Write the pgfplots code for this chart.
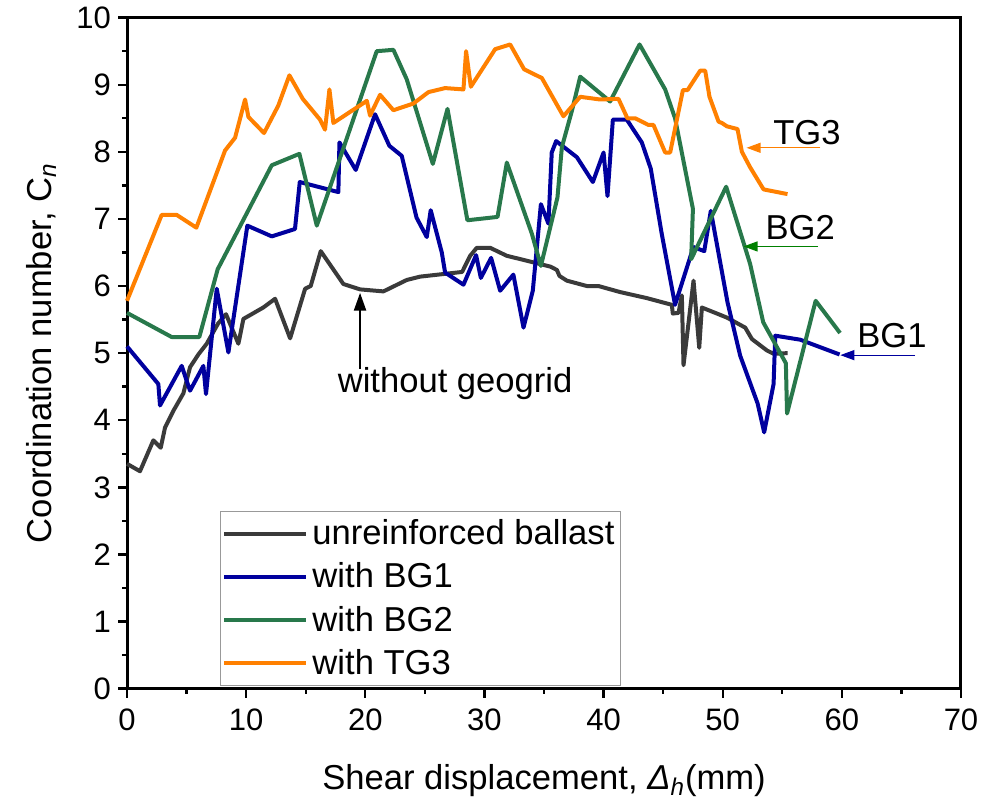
\documentclass[border=0pt]{standalone}
\usepackage{fontspec}
\setmainfont{Liberation Sans}
\usepackage{pgfplots}
\pgfplotsset{compat=1.18}
\usetikzlibrary{arrows.meta}
\definecolor{cgray}{HTML}{3A3A3A}
\definecolor{cblue}{HTML}{00009E}
\definecolor{cgreen}{HTML}{28784B}
\definecolor{corange}{HTML}{FF8000}
\definecolor{agreen}{HTML}{008000}
\begin{document}
\begin{tikzpicture}
\begin{axis}[
  width=417pt, height=335.5pt, scale only axis,
  xmin=0, xmax=70, ymin=0, ymax=10,
  xtick={0,10,...,70}, ytick={0,1,...,10},
  minor x tick num=1, minor y tick num=1,
  tick align=outside, xtick pos=left, ytick pos=left,
  major tick length=4.5pt, minor tick length=2.5pt,
  axis line style={line width=1.5pt},
  every tick/.style={black, line width=1.2pt},
  tick label style={font=\fontsize{15.5}{18}\selectfont},
  xticklabel style={yshift=-2pt},
  /pgf/number format/assume math mode=true,
  label style={font=\fontsize{17.3}{20}\selectfont},
  xlabel={Shear displacement, \textit{Δ}\textsubscript{\textit{h}}(mm)},
  ylabel={Coordination number, C\textsubscript{\textit{n}}},
  xlabel style={yshift=-10pt},
  ylabel style={yshift=3pt},
  clip=false,
  legend cell align=left,
  legend style={at={(0.1115,0.0045)}, anchor=south west, draw=gray!80, line width=0.5pt,
    font=\fontsize{17.3}{20}\selectfont, inner xsep=1pt, inner ysep=2pt, row sep=3.5pt},
  legend image code/.code={\draw[#1, line width=2pt] (0pt,0pt) -- (41pt,0pt);},
  every axis plot/.append style={line width=2pt, line join=round},
]
\addplot[cgray] coordinates {
(0,3.35) (1.09,3.24) (2.21,3.70) (2.83,3.59) (3.19,3.89) (3.89,4.14) (4.73,4.40)
(5.29,4.79) (5.99,4.98) (6.69,5.14) (7.64,5.44) (8.31,5.58) (9.35,5.14) (9.77,5.51)
(11.44,5.68) (12.43,5.81) (13.69,5.22) (14.95,5.96) (15.42,6.00) (16.26,6.52)
(18.16,6.03) (19.56,5.95) (21.52,5.92) (23.48,6.09) (24.60,6.14) (28.13,6.21)
(28.80,6.45) (29.36,6.57) (30.48,6.57) (31.88,6.45) (33.27,6.39) (35.52,6.29)
(36.08,6.24) (36.30,6.15) (36.92,6.08) (38.60,6.00) (39.57,6.00) (41.39,5.91)
(43.63,5.82) (45.73,5.72) (45.81,5.59) (46.29,5.60) (46.57,5.86) (46.71,4.82)
(47.55,6.08) (48.03,5.08) (48.25,5.68) (50.35,5.53) (51.89,5.38) (52.45,5.21)
(53.71,5.04) (54.27,4.99) (55.45,5.00)
};
\addlegendentry{unreinforced ballast}
\addplot[cblue] coordinates {
(0,5.10) (2.63,4.54) (2.77,4.22) (4.59,4.81) (5.29,4.44) (6.41,4.81) (6.63,4.39)
(7.53,5.96) (8.51,5.01) (10.10,6.90) (12.15,6.74) (14.10,6.85) (14.50,7.55)
(17.74,7.40) (17.83,8.14) (19.20,7.73) (20.82,8.56) (22.02,8.09) (23.06,7.94)
(24.30,7.02) (25.16,6.73) (25.49,7.13) (26.42,6.50) (26.70,6.20) (28.24,6.02)
(29.30,6.46) (29.70,6.12) (30.56,6.42) (31.32,5.93) (32.43,6.17) (33.28,5.38)
(34.06,5.93) (34.74,7.22) (35.37,6.93) (35.65,7.99) (36.02,8.16) (37.76,7.92)
(39.10,7.55) (40.00,7.99) (40.33,7.34) (40.78,8.48) (41.95,8.48) (43.21,8.14)
(43.96,7.75) (44.88,6.78) (46.00,5.72) (47.27,6.43) (47.55,6.58) (48.45,6.52)
(49.00,7.12) (50.40,5.76) (51.47,4.96) (52.93,4.25) (53.48,3.82) (54.27,4.54)
(54.41,5.26) (56.51,5.20) (59.81,4.98)
};
\addlegendentry{with BG1}
\addplot[cgreen] coordinates {
(0,5.60) (3.75,5.24) (6.07,5.24) (7.61,6.25) (12.15,7.80) (14.47,7.97) (15.93,6.90)
(20.96,9.50) (22.36,9.52) (23.48,9.08) (25.67,7.82) (26.90,8.64) (28.57,6.98)
(31.10,7.03) (31.88,7.84) (33.98,6.78) (34.74,6.30) (36.13,7.32) (36.50,8.07)
(37.34,8.61) (38.04,9.12) (40.55,8.75) (43.02,9.60) (45.17,8.93) (46.00,8.50)
(47.50,7.15) (47.35,6.40) (50.29,7.48) (52.30,6.33) (53.40,5.46) (55.30,4.85)
(55.40,4.10) (57.80,5.78) (59.85,5.30)
};
\addlegendentry{with BG2}
\addplot[corange] coordinates {
(0,5.78) (2.91,7.06) (4.17,7.06) (5.82,6.87) (8.23,8.02) (9.07,8.21) (9.91,8.78)
(10.19,8.52) (11.50,8.28) (12.70,8.69) (13.63,9.14) (14.75,8.79) (16.20,8.48)
(16.62,8.33) (16.99,8.93) (17.32,8.43) (20.13,8.76) (20.40,8.54) (21.24,8.85)
(22.36,8.62) (24.04,8.72) (25.30,8.89) (26.70,8.95) (28.24,8.93) (28.46,9.50)
(28.86,8.97) (30.90,9.53) (32.16,9.60) (33.33,9.23) (34.82,9.10) (36.63,8.53)
(38.04,8.82) (39.71,8.78) (41.25,8.79) (42.00,8.50) (42.65,8.50) (43.77,8.40)
(44.19,8.40) (45.17,7.99) (45.59,7.99) (46.66,8.92) (47.05,8.92) (48.11,9.21)
(48.53,9.21) (48.89,8.82) (49.65,8.45) (49.93,8.43) (50.35,8.38) (51.24,8.34)
(51.61,8.00) (52.30,7.77) (53.43,7.44) (55.44,7.37)
};
\addlegendentry{with TG3}
% annotations
\draw[black, line width=1.2pt, -{Triangle[length=9pt,width=6pt]}] (axis cs:19.56,4.77) -- (axis cs:19.56,5.90);
\node[font=\fontsize{17.3}{20}\selectfont] at (axis cs:27.54,4.55) {without geogrid};
\draw[corange, line width=0.6pt, -{Triangle[length=7pt,width=5pt]}] (axis cs:58.2,8.06) -- (axis cs:52.0,8.06);
\node[font=\fontsize{17.3}{20}\selectfont] at (axis cs:57.07,8.29) {TG3};
\draw[agreen, line width=0.6pt, -{Triangle[length=7pt,width=5pt]}] (axis cs:58.0,6.59) -- (axis cs:51.75,6.59);
\node[font=\fontsize{17.3}{20}\selectfont] at (axis cs:56.5,6.87) {BG2};
\draw[cblue, line width=0.6pt, -{Triangle[length=7pt,width=5pt]}] (axis cs:66.16,4.97) -- (axis cs:59.87,4.97);
\node[font=\fontsize{17.3}{20}\selectfont] at (axis cs:64.2,5.26) {BG1};
\path (rel axis cs:-0.1523,-0.1684) rectangle (rel axis cs:1.0324,1.0253);
\end{axis}
\end{tikzpicture}
\end{document}
